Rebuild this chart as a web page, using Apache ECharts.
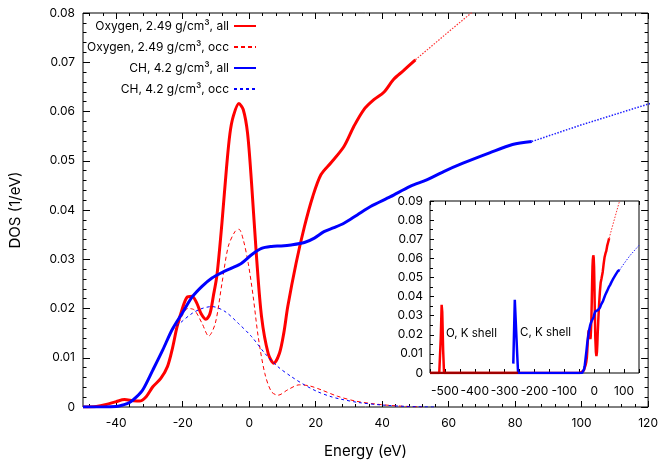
<!DOCTYPE html>
<html>
<head>
<meta charset="utf-8">
<script src="https://cdn.jsdelivr.net/npm/echarts@6/dist/echarts.min.js"></script>
<style>
  html, body { margin: 0; padding: 0; background: #fff; }
  #chart { width: 661px; height: 466px; }
</style>
</head>
<body>
<div id="chart"></div>
<script>
var myChart = echarts.init(document.getElementById('chart'));

// [energy (eV), DOS (1/eV)]
var oxygenAll = [[-50,0],[-46,0.0001],[-43,0.0005],[-40,0.0011],[-37.5,0.0015],[-35,0.0013],[-33,0.0012],[-31,0.0021],
  [-29,0.0041],[-26.6,0.0058],[-24.6,0.0082],[-23.2,0.0116],[-21.7,0.0163],[-20.2,0.0198],[-18.7,0.0223],[-17.2,0.0225],
  [-15.7,0.021],[-14.5,0.019],[-13,0.0178],[-11.8,0.019],[-10.8,0.0225],[-9.7,0.0268],[-8.2,0.0374],[-6.8,0.0488],
  [-5.8,0.0555],[-4.8,0.059],[-3.1,0.0616],[-1.8,0.0604],[-0.5,0.0556],[0.7,0.0455],[2.2,0.0305],[3.7,0.0184],
  [5.7,0.0109],[7.4,0.0089],[9.1,0.0109],[10.4,0.015],[11.6,0.0204],[14.1,0.0292],[16.6,0.0366],[19.1,0.0427],
  [21.6,0.0472],[24.6,0.0496],[28.5,0.0529],[31.5,0.057],[34.5,0.0604],[37.5,0.0624],[40.5,0.0639],[43.4,0.0665],
  [46.4,0.0683],[50,0.0705]];
var oxygenOcc = [[-50,0],[-46,0.0001],[-43,0.0005],[-40,0.0011],[-37.5,0.0015],[-35,0.0013],[-33,0.0012],[-31,0.0021],
  [-29,0.0041],[-26.6,0.0058],[-24.6,0.0082],[-23.2,0.0116],[-21.7,0.016],[-20.2,0.0185],[-18.5,0.02],[-16.5,0.0197],
  [-14.2,0.017],[-12.2,0.0144],[-10.2,0.017],[-8.2,0.0251],[-6.3,0.0326],[-4.3,0.0356],[-3.1,0.0361],[-1.8,0.034],
  [-0.3,0.0292],[1.2,0.0224],[2.7,0.0143],[4.7,0.0068],[6.7,0.0031],[8.7,0.0024],[11.6,0.0035],[15.1,0.0045],
  [18.1,0.0043],[21.6,0.0035],[26.5,0.0022],[32,0.0012],[38,0.0006],[45,0.0002],[52,0]];
var chAll = [[-50,0],[-44,0],[-40,0.0001],[-38,0.0004],[-36,0.0009],[-34,0.002],[-32,0.0035],[-29,0.0075],
  [-26,0.0116],[-23.2,0.0157],[-20.2,0.019],[-17.2,0.0223],[-14.2,0.0245],[-11.2,0.0262],[-8.2,0.0273],[-5.3,0.0282],
  [-2.3,0.0292],[0.7,0.0309],[3.7,0.0322],[6.7,0.0326],[9.6,0.0327],[12.6,0.0329],[16.6,0.0334],[19.6,0.0343],
  [22.5,0.0356],[25.5,0.0364],[28.5,0.0373],[32.5,0.039],[36.5,0.0407],[42.5,0.0427],[48.4,0.0448],[53.4,0.0461],
  [58.5,0.0478],[64.3,0.0495],[72.3,0.0516],[79.2,0.0533],[85,0.0539]];
var chOcc = [[-50,0],[-44,0],[-40,0.0001],[-38,0.0004],[-36,0.0009],[-34,0.002],[-32,0.0035],[-29,0.0075],
  [-26,0.0116],[-23.2,0.0155],[-21.2,0.0168],[-17.2,0.019],[-14.2,0.02],[-11.2,0.0204],[-7.3,0.0194],[-3.3,0.017],
  [0.7,0.0143],[4.7,0.0109],[8.6,0.0082],[12.6,0.0062],[16.6,0.0045],[20.6,0.0031],[24.6,0.0021],[27.5,0.0016],
  [33,0.0009],[40,0.0004],[48,0.0001],[56,0]];
var oxygenTail = [[50,0.0705],[60,0.0762],[70,0.0818],[80,0.0873],[86,0.0906]];
var chTail = [[85,0.0539],[100,0.0573],[120,0.0615],[150,0.0668]];
var oxygenKShell = [[-550,0],[-519,0],[-514,0.018],[-511,0.0357],[-509,0.032],[-506,0.012],[-503,0]];
var carbonKShell = [[-271,0.0049],[-266,0.0383],[-263,0.0375],[-258,0.01],[-255,0]];
var coreBaseline = [[-550,0],[-255,0]];

var names = ['Oxygen, 2.49 g/cm³, all', 'Oxygen, 2.49 g/cm³, occ', 'CH, 4.2 g/cm³, all', 'CH, 4.2 g/cm³, occ'];
var mainMajorX = [-40, -20, 0, 20, 40, 60, 80, 100, 120];
var insetLabelX = [-500, -400, -300, -200, -100, 0, 100];

var mainMinorX = [];
for (var v = -48; v < 120; v += 4) {
  if (mainMajorX.indexOf(v) < 0) mainMinorX.push(v);
}

var font = 'Inter';
var black = '#000';
var noLine = { show: false, onZero: false };

function xAx(pos, ticks, len, label) {
  return {
    gridIndex: 0, type: 'value', position: pos, min: -50, max: 120,
    axisLine: noLine,
    axisTick: { inside: true, length: len, customValues: ticks, lineStyle: { color: black } },
    axisLabel: label ? { customValues: mainMajorX, color: black, fontFamily: font, fontSize: 12, margin: 10 } : { show: false },
    splitLine: { show: false }
  };
}

option = {
  animation: false,
  backgroundColor: '#fff',
  grid: [
    { left: 80, top: 13, width: 570, height: 394, show: true, borderColor: black, borderWidth: 1 },
    { left: 430, top: 201, width: 209, height: 172, show: true, borderColor: black, borderWidth: 1, backgroundColor: '#fff' }
  ],
  legend: {
    data: names, orient: 'vertical', right: 404, top: 20, align: 'right', padding: 0,
    itemWidth: 22, itemHeight: 10, itemGap: 9,
    itemStyle: { opacity: 0 },   // hide the dot ECharts puts on line icons
    textStyle: { fontFamily: font, fontSize: 12, color: black }
  },
  xAxis: [
    Object.assign(xAx('bottom', mainMajorX, 6, true), {
      name: 'Energy (eV)', nameLocation: 'middle', nameGap: 37,
      nameTextStyle: { fontFamily: font, fontSize: 15, color: black }
    }),
    xAx('bottom', mainMinorX, 3, false),
    xAx('top', mainMajorX, 6, false),
    xAx('top', mainMinorX, 3, false),
    {
      gridIndex: 1, type: 'value', position: 'bottom', min: -550, max: 150, interval: 50,
      axisLine: noLine,
      axisTick: { inside: true, length: 4, lineStyle: { color: black } },
      axisLabel: { customValues: insetLabelX, color: black, fontFamily: font, fontSize: 12, margin: 12 },
      splitLine: { show: false }
    },
    {
      gridIndex: 1, type: 'value', position: 'top', min: -550, max: 150, interval: 50,
      axisLine: noLine,
      axisTick: { inside: true, length: 4, lineStyle: { color: black } },
      axisLabel: { show: false },
      splitLine: { show: false }
    }
  ],
  yAxis: [
    {
      gridIndex: 0, type: 'value', position: 'left', min: 0, max: 0.08, interval: 0.01,
      name: 'DOS (1/eV)', nameLocation: 'middle', nameGap: 60,
      nameTextStyle: { fontFamily: font, fontSize: 15, color: black },
      axisLine: noLine,
      axisTick: { inside: true, length: 7, lineStyle: { color: black } },
      minorTick: { show: true, splitNumber: 5, length: 3.5, lineStyle: { color: black } },
      axisLabel: { color: black, fontFamily: font, fontSize: 12, margin: 8 },
      splitLine: { show: false }, minorSplitLine: { show: false }
    },
    {
      gridIndex: 0, type: 'value', position: 'right', min: 0, max: 0.08, interval: 0.01,
      axisLine: noLine,
      axisTick: { inside: true, length: 7, lineStyle: { color: black } },
      minorTick: { show: true, splitNumber: 5, length: 3.5, lineStyle: { color: black } },
      axisLabel: { show: false },
      splitLine: { show: false }, minorSplitLine: { show: false }
    },
    {
      gridIndex: 1, type: 'value', position: 'left', min: 0, max: 0.09, interval: 0.01,
      axisLine: noLine,
      axisTick: { inside: true, length: 4, lineStyle: { color: black } },
      minorTick: { show: true, splitNumber: 2, length: 3, lineStyle: { color: black } },
      axisLabel: { color: black, fontFamily: font, fontSize: 12, margin: 7 },
      splitLine: { show: false }, minorSplitLine: { show: false }
    }
  ],
  graphic: [
    { type: 'text', left: 446, top: 328, z: 100, style: { text: 'O, K shell', font: '11.5px Inter', fill: black } },
    { type: 'text', left: 520, top: 327, z: 100, style: { text: 'C, K shell', font: '11.5px Inter', fill: black } }
  ],
  series: [
    { name: names[0], type: 'line', data: oxygenAll, symbol: 'none', smooth: 0.3,
      lineStyle: { color: '#ff0000', width: 3 }, itemStyle: { color: '#ff0000' } },
    { name: names[1], type: 'line', data: oxygenOcc, symbol: 'none', smooth: 0.3,
      lineStyle: { color: '#ff0000', width: 1, type: [4, 3] }, itemStyle: { color: '#ff0000' } },
    { name: names[2], type: 'line', data: chAll, symbol: 'none', smooth: 0.3,
      lineStyle: { color: '#0000ff', width: 3 }, itemStyle: { color: '#0000ff' } },
    { name: names[3], type: 'line', data: chOcc, symbol: 'none', smooth: 0.3,
      lineStyle: { color: '#0000ff', width: 1, type: [3, 3] }, itemStyle: { color: '#0000ff' } },
    { name: 'O tail', type: 'line', data: oxygenTail, symbol: 'none',
      lineStyle: { color: '#ff3030', width: 1.2, type: [1.5, 1.5] } },
    { name: 'CH tail', type: 'line', data: chTail, symbol: 'none',
      lineStyle: { color: '#2020ff', width: 1.5, type: [1.5, 1.5] } },

    // inset
    { name: 'O inset', type: 'line', xAxisIndex: 4, yAxisIndex: 2, data: oxygenKShell.concat(oxygenAll),
      symbol: 'none', z: 5, lineStyle: { color: '#ff0000', width: 2.5 } },
    { name: 'C inset', type: 'line', xAxisIndex: 4, yAxisIndex: 2, data: carbonKShell.concat(chAll),
      symbol: 'none', z: 6, lineStyle: { color: '#0000ff', width: 2.5 } },
    { name: 'core base', type: 'line', xAxisIndex: 4, yAxisIndex: 2, data: coreBaseline,
      symbol: 'none', z: 6, lineStyle: { color: '#a00000', width: 2.5 } },
    { name: 'O inset tail', type: 'line', xAxisIndex: 4, yAxisIndex: 2, data: oxygenTail,
      symbol: 'none', z: 5, lineStyle: { color: '#ff3030', width: 1, type: [1.5, 1.5] } },
    { name: 'C inset tail', type: 'line', xAxisIndex: 4, yAxisIndex: 2, data: chTail,
      symbol: 'none', z: 5, lineStyle: { color: '#2020ff', width: 1, type: [1.5, 1.5] } }
  ]
};
option && myChart.setOption(option);
</script>
</body>
</html>
